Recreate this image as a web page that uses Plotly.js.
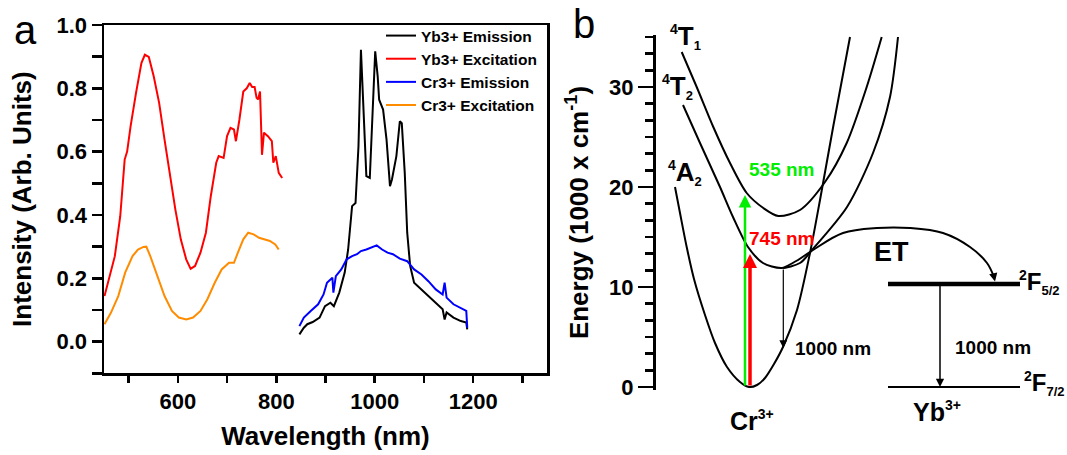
<!DOCTYPE html>
<html>
<head>
<meta charset="utf-8">
<script src="https://cdn.plot.ly/plotly-3.0.1.min.js"></script>
<style>html,body{margin:0;padding:0;background:#fff;}#chart{width:1067px;height:455px;}</style>
</head>
<body>
<div id="chart"></div>
<script>
// ---------- Panel a: spectra ----------
const ybEmWl = [847,856,863,874,888,899,910,917,928,939,946,954,961,967,972,978,983,990,996,1001,1006,1009,1017,1024,1031,1035,1044,1051,1055,1061,1066,1072,1080,1095,1109,1124,1138,1142,1146,1160,1175,1186,1188];
const ybEmI  = [0.023,0.044,0.055,0.062,0.076,0.112,0.123,0.112,0.155,0.218,0.291,0.428,0.438,0.617,0.922,0.712,0.523,0.517,0.712,0.917,0.838,0.764,0.733,0.638,0.491,0.512,0.586,0.696,0.69,0.533,0.344,0.239,0.186,0.165,0.144,0.123,0.102,0.07,0.092,0.076,0.065,0.06,0.039];

const ybExWl = [451,461,472,483,492,497,504,515,526,533,541,551,562,573,584,595,606,617,626,635,646,657,667,678,683,693,700,707,714,718,725,733,740,746,751,756,760,763,767,771,775,783,791,794,799,805,812];
const ybExI  = [0.144,0.207,0.27,0.396,0.575,0.60,0.68,0.785,0.88,0.906,0.899,0.838,0.754,0.638,0.523,0.417,0.323,0.26,0.23,0.239,0.281,0.344,0.46,0.565,0.586,0.58,0.649,0.675,0.67,0.633,0.70,0.79,0.80,0.817,0.804,0.804,0.77,0.765,0.79,0.59,0.66,0.649,0.633,0.565,0.586,0.533,0.517];

const crEmWl = [847,856,870,885,896,903,914,916,921,932,943,954,964,972,983,993,1004,1015,1026,1037,1051,1066,1080,1095,1109,1124,1138,1142,1146,1160,1175,1186,1188];
const crEmI  = [0.049,0.076,0.097,0.118,0.149,0.186,0.202,0.155,0.207,0.228,0.26,0.27,0.276,0.286,0.291,0.297,0.304,0.291,0.281,0.276,0.262,0.254,0.228,0.212,0.191,0.165,0.149,0.186,0.139,0.118,0.107,0.097,0.044];

const crExWl = [451,464,479,493,508,519,530,536,544,559,573,588,602,617,631,646,660,675,689,704,714,722,733,743,754,765,776,787,798,805];
const crExI  = [0.055,0.091,0.144,0.218,0.27,0.291,0.299,0.30,0.27,0.207,0.144,0.097,0.076,0.07,0.076,0.097,0.134,0.186,0.228,0.249,0.249,0.281,0.323,0.344,0.339,0.328,0.323,0.318,0.307,0.291];

const seriesNames = ['Yb3+ Emission','Yb3+ Excitation','Cr3+ Emission','Cr3+ Excitation'];
const seriesColors = ['#000000','#ff0000','#0000ff','#ff8c00'];

// ---------- Panel b: configuration-coordinate diagram (x = arbitrary coordinate, y = energy / 1000 cm-1) ----------
const a2Q = [675,680,686.7,694,705,715,727,740,749,757,765,774,783,797,810,820,833.5,850];
const a2E = [20.0,17.4,14.0,10.8,7.2,4.4,2.0,0.5,0.0,0.2,0.9,2.3,4.0,7.7,13.4,18.7,26.2,35.0];
const t2Q = [683,700,720,733,748,763,781,800,812,847,873,890,898];
const t2E = [28.2,24.4,20.0,17.0,14.0,12.4,11.9,12.4,13.7,18.0,23.4,29.0,35.0];
const t1Q = [681.7,696.7,713.3,730,746.7,763.3,778.3,800,825,846.7,866.7,881.7];
const t1E = [33.5,30.0,26.0,22.4,19.4,17.9,17.1,17.7,20.5,24.4,30.0,35.0];
const etQ = [783.3,798,813,843,877,910,943,970,987,994];
const etE = [11.9,12.7,13.7,15.4,15.9,15.9,15.4,14.0,12.4,11.0];
const ybLevelQ = [888,1020];
const ybF52E = 10.3;
const ybF72E = 0.0;
const greenQ = 745, greenE = 19.2;
const redQ = 750, redE = 13.3;
const crDecayQ = 783.3, crDecayTop = 11.9, crDecayBottom = 3.9;
const ybDecayQ = 940;

const FONT = 'Liberation Sans, Arial, sans-serif';

const traces = [
  {x: ybEmWl, y: ybEmI, name: seriesNames[0], mode:'lines', line:{color:seriesColors[0], width:2}},
  {x: ybExWl, y: ybExI, name: seriesNames[1], mode:'lines', line:{color:seriesColors[1], width:2}},
  {x: crEmWl, y: crEmI, name: seriesNames[2], mode:'lines', line:{color:seriesColors[2], width:2}},
  {x: crExWl, y: crExI, name: seriesNames[3], mode:'lines', line:{color:seriesColors[3], width:2}},
  {x: a2Q, y: a2E, xaxis:'x2', yaxis:'y2', mode:'lines', line:{color:'#000', width:2, shape:'spline', smoothing:0.8}, showlegend:false, hoverinfo:'skip'},
  {x: t2Q, y: t2E, xaxis:'x2', yaxis:'y2', mode:'lines', line:{color:'#000', width:2, shape:'spline', smoothing:0.8}, showlegend:false, hoverinfo:'skip'},
  {x: t1Q, y: t1E, xaxis:'x2', yaxis:'y2', mode:'lines', line:{color:'#000', width:2, shape:'spline', smoothing:0.8}, showlegend:false, hoverinfo:'skip'},
  {x: etQ, y: etE, xaxis:'x2', yaxis:'y2', mode:'lines', line:{color:'#000', width:2, shape:'spline'}, showlegend:false, hoverinfo:'skip'},
  {x: ybLevelQ, y: [ybF52E, ybF52E], xaxis:'x2', yaxis:'y2', mode:'lines', line:{color:'#000', width:4.5}, showlegend:false, hoverinfo:'skip'},
  {x: ybLevelQ, y: [ybF72E, ybF72E], xaxis:'x2', yaxis:'y2', mode:'lines', line:{color:'#000', width:2}, showlegend:false, hoverinfo:'skip'}
];

function arrow(x, y, ax, ay, color, width, size) {
  return {x:x, y:y, ax:ax, ay:ay, xref:'x2', yref:'y2', axref:'x2', ayref:'y2', text:'', showarrow:true,
          arrowhead:2, arrowsize:size||1, arrowwidth:width, arrowcolor:color, standoff:0, startstandoff:0};
}
function label(x, y, text, size, color, xanchor) {
  return {x:x, y:y, xref:'x2', yref:'y2', text:text, showarrow:false, xanchor:xanchor||'center', yanchor:'middle',
          font:{family:FONT, size:size, color:color||'#000', weight:'bold'}};
}
function plabel(px, py, text, size) {
  return {x:px/1067, y:1-py/455, xref:'paper', yref:'paper', text:text, showarrow:false, xanchor:'center', yanchor:'middle',
          font:{family:FONT, size:size, color:'#000', weight:'bold'}};
}
const E = py => (387 - py) / 10; // label placement only

const sub = s => '<sub><span style="font-size:13px">' + s + '</span></sub>';
const sup = s => '<sup><span style="font-size:14px">' + s + '</span></sup>';

const annotations = [
  arrow(greenQ, greenE, greenQ, 0, '#00ee00', 2.5, 1),
  arrow(redQ, redE, redQ, 0, '#ff0000', 3.5, 0.8),
  arrow(crDecayQ, crDecayBottom, crDecayQ, crDecayTop, '#000', 1.2, 1.3),
  arrow(ybDecayQ, ybF72E, ybDecayQ, ybF52E, '#000', 1.5, 1.1),
  arrow(995, 10.55, 994, 11.0, '#000', 1.5, 1.1),
  label(685, E(37), sup('4') + 'T' + sub('1'), 26, '#000', 'center'),
  label(677, E(87), sup('4') + 'T' + sub('2'), 26, '#000', 'center'),
  label(685, E(173), sup('4') + 'A' + sub('2'), 26, '#000', 'center'),
  label(747, E(170), '535 nm', 19, '#00ee00', 'left'),
  label(747, E(239), '745 nm', 19, '#ff0000', 'left'),
  label(793, E(348), '1000 nm', 19, '#000', 'left'),
  label(891, E(252), 'ET', 27, '#000', 'center'),
  label(1062, E(282), sup('2') + 'F' + sub('5/2'), 24, '#000', 'right'),
  label(1067, E(383), sup('2') + 'F' + sub('7/2'), 24, '#000', 'right'),
  label(993, E(347), '1000 nm', 19, '#000', 'center'),
  plabel(937, 411, 'Yb' + sup('3+'), 25),
  plabel(752, 420, 'Cr' + sup('3+'), 25),
  {x: 25/1067, y: 1-30/455, xref:'paper', yref:'paper', text:'a', showarrow:false, xanchor:'center', yanchor:'middle', font:{family:FONT, size:40, color:'#000'}},
  {x: 584/1067, y: 1-24/455, xref:'paper', yref:'paper', text:'b', showarrow:false, xanchor:'center', yanchor:'middle', font:{family:FONT, size:40, color:'#000'}}
];

const tickFont = {family:FONT, size:22, color:'#000', weight:'bold'};
const titleFont = {family:FONT, size:26, color:'#000', weight:'bold'};

const layout = {
  width:1067, height:455, autosize:false,
  margin:{l:0, r:0, t:0, b:0},
  paper_bgcolor:'#fff', plot_bgcolor:'rgba(0,0,0,0)',
  showlegend:true,
  legend:{x:381/1067, y:1-19/455, xanchor:'left', yanchor:'top', bgcolor:'rgba(0,0,0,0)', borderwidth:0,
          font:{family:FONT, size:15.5, color:'#000', weight:'bold'}, itemwidth:30, tracegroupgap:0},
  xaxis:{domain:[104/1067, 547/1067], range:[450,1350], anchor:'y', showgrid:false, zeroline:false,
         showline:true, linecolor:'#000', linewidth:2.5, mirror:true,
         ticks:'outside', ticklen:7, tickwidth:2.5, tickcolor:'#000', tick0:0, dtick:200,
         minor:{dtick:100, ticks:'outside', ticklen:7, tickwidth:2.5, tickcolor:'#000', showgrid:false},
         tickfont:tickFont, title:{text:'Wavelength (nm)', font:titleFont, standoff:14}},
  yaxis:{domain:[1-373.3/455, 1-25/455], range:[-0.1,1.0], anchor:'x', showgrid:false, zeroline:false,
         showline:true, linecolor:'#000', linewidth:2.5, mirror:true,
         ticks:'outside', ticklen:10, tickwidth:2.5, tickcolor:'#000', tick0:0, dtick:0.2, tickformat:'.1f',
         minor:{dtick:0.1, ticks:'outside', ticklen:10, tickwidth:2.5, tickcolor:'#000', showgrid:false},
         tickfont:tickFont, title:{text:'Intensity (Arb. Units)', font:titleFont, standoff:18}},
  xaxis2:{domain:[656/1067, 1], range:[656,1067], anchor:'y2', visible:false, showgrid:false, zeroline:false},
  yaxis2:{domain:[1-390/455, 1-35/455], range:[-0.3,35.2], anchor:'x2', showgrid:false, zeroline:false,
          showline:true, linecolor:'#000', linewidth:3,
          ticks:'outside', ticklen:15, tickwidth:2.5, tickcolor:'#000', tick0:0, dtick:10,
          minor:{dtick:10/6, ticks:'outside', ticklen:8, tickwidth:2.5, tickcolor:'#000', showgrid:false},
          tickfont:tickFont, title:{text:'Energy (1000 x cm<sup>-1</sup>)', font:titleFont, standoff:14}},
  annotations: annotations
};

Plotly.newPlot('chart', traces, layout, {displayModeBar:false, staticPlot:true});
</script>
</body>
</html>
